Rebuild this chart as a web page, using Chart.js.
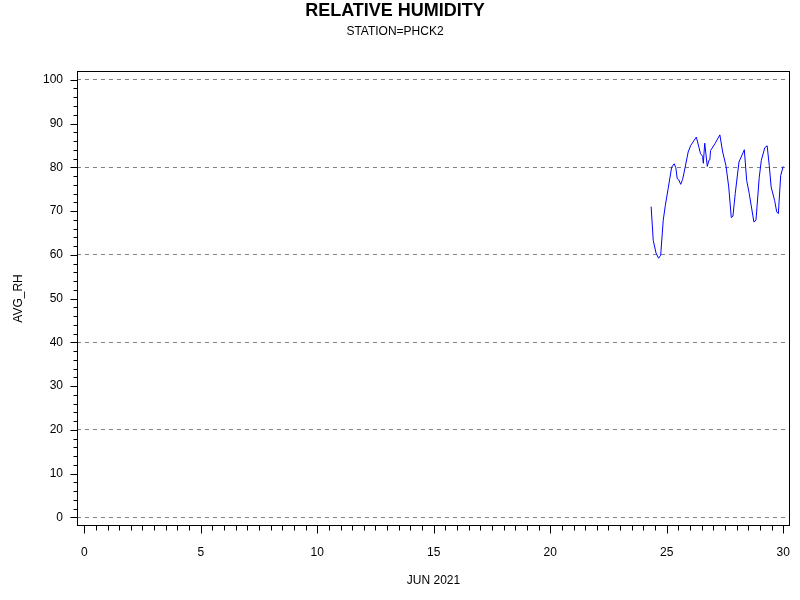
<!DOCTYPE html>
<html>
<head>
<meta charset="utf-8">
<title>Relative Humidity</title>
<script src="https://cdn.jsdelivr.net/npm/chart.js@4/dist/chart.umd.min.js"></script>
<style>
  html, body { margin: 0; padding: 0; background: #fff; }
  canvas { display: block; }
</style>
</head>
<body>
<canvas id="rhChart" width="800" height="600"></canvas>
<script>
// day of June 2021 (fractional) and average relative humidity
const days = [
  24.33, 24.42, 24.54, 24.65, 24.74, 24.85, 24.94, 25.06, 25.21, 25.32,
  25.39, 25.45, 25.51, 25.60, 25.68, 25.79, 25.92, 26.03, 26.27, 26.38,
  26.45, 26.54, 26.57, 26.63, 26.74, 26.81, 26.85, 26.88, 27.07, 27.28,
  27.40, 27.54, 27.66, 27.77, 27.84, 27.94, 28.10, 28.33, 28.43, 28.54,
  28.74, 28.83, 28.97, 29.06, 29.21, 29.31, 29.40, 29.48, 29.63, 29.72,
  29.79, 29.89, 30.00
];
const avgRh = [
  71.0, 63.3, 60.4, 59.2, 59.9, 67.9, 71.3, 75.1, 80.0, 80.8,
  79.9, 77.4, 77.2, 76.1, 77.2, 80.0, 83.5, 85.0, 86.9, 84.6,
  83.1, 82.5, 80.9, 85.5, 80.2, 81.6, 81.7, 83.8, 85.4, 87.4,
  83.5, 80.4, 75.5, 68.5, 68.8, 74.0, 81.2, 84.0, 77.0, 74.0,
  67.5, 67.9, 77.7, 81.6, 84.5, 84.9, 80.4, 75.5, 72.4, 69.8,
  69.4, 78.1, 80.2
];

// axis ticks
const xTicks = [0, 5, 10, 15, 20, 25, 30];
const xMinorStep = 0.5;
const yTicks = [0, 10, 20, 30, 40, 50, 60, 70, 80, 90, 100];
const yMinorStep = 2;
const yGridLines = [0, 20, 40, 60, 80, 100];

const FONT = 'Liberation Sans, Arial, Helvetica, sans-serif';

// frame round the plot area plus major/minor tick marks
const frameAndTicks = {
  id: 'frameAndTicks',
  afterDraw(chart) {
    const { ctx, chartArea: a, scales: { x, y } } = chart;
    ctx.save();
    ctx.strokeStyle = '#000';
    ctx.lineWidth = 1;
    const L = Math.round(a.left) + 0.5, R = Math.round(a.right) - 0.5;
    const T = Math.round(a.top) + 0.5, B = Math.round(a.bottom) - 0.5;
    ctx.strokeRect(L, T, R - L, B - T);

    ctx.beginPath();
    const nx = Math.round((xTicks[xTicks.length - 1] - xTicks[0]) / xMinorStep);
    for (let i = 0; i <= nx; i++) {
      const v = xTicks[0] + i * xMinorStep;
      const px = Math.round(x.getPixelForValue(v)) + 0.5;
      const len = xTicks.includes(v) ? 8 : 5;
      ctx.moveTo(px, B);
      ctx.lineTo(px, B + len);
    }
    const ny = Math.round((yTicks[yTicks.length - 1] - yTicks[0]) / yMinorStep);
    for (let i = 0; i <= ny; i++) {
      const v = yTicks[0] + i * yMinorStep;
      const py = Math.round(y.getPixelForValue(v)) + 0.5;
      const len = yTicks.includes(v) ? 7 : 4;
      ctx.moveTo(L, py);
      ctx.lineTo(L - len, py);
    }
    ctx.stroke();
    ctx.restore();
  }
};

new Chart(document.getElementById('rhChart'), {
  type: 'line',
  data: {
    datasets: [{
      label: 'AVG_RH',
      data: days.map((d, i) => ({ x: d, y: avgRh[i] })),
      borderColor: '#0000ff',
      borderWidth: 1,
      pointRadius: 0,
      tension: 0,
      fill: false
    }]
  },
  options: {
    responsive: false,
    animation: false,
    devicePixelRatio: 1,
    layout: { padding: { left: 0, right: 10, top: 0, bottom: 0 } },
    plugins: {
      legend: { display: false },
      tooltip: { enabled: false },
      title: {
        display: true,
        text: 'RELATIVE HUMIDITY',
        color: '#000',
        font: { family: FONT, size: 18, weight: 'bold' },
        padding: { top: 0, bottom: 0 }
      },
      subtitle: {
        display: true,
        text: 'STATION=PHCK2',
        color: '#000',
        font: { family: FONT, size: 12 },
        padding: { top: 3, bottom: 32 }
      }
    },
    scales: {
      x: {
        type: 'linear',
        min: -0.31,
        max: 30.29,
        afterFit: s => { s.height = 74; s.paddingLeft = 0; s.paddingRight = 0; },
        border: { display: false },
        grid: { display: false, drawTicks: false },
        ticks: {
          stepSize: 5,
          includeBounds: false,
          autoSkip: false,
          maxRotation: 0,
          padding: 19,
          color: '#000',
          font: { family: FONT, size: 12 },
          callback: v => xTicks.includes(v) ? String(v) : ''
        },
        title: {
          display: true,
          text: 'JUN 2021',
          color: '#000',
          font: { family: FONT, size: 12 },
          padding: { top: 0, bottom: 12 }
        }
      },
      y: {
        min: -2,
        max: 102,
        afterFit: s => { s.width = 77; s.paddingTop = 0; s.paddingBottom = 0; },
        border: { display: false, dash: [4, 4] },
        grid: {
          drawTicks: false,
          color: c => yGridLines.includes(c.tick.value) ? '#808080' : 'rgba(0,0,0,0)',
          lineWidth: 1
        },
        ticks: {
          stepSize: 10,
          includeBounds: false,
          autoSkip: false,
          padding: 14,
          color: '#000',
          font: { family: FONT, size: 12 },
          callback: v => yTicks.includes(v) ? String(v) : ''
        },
        title: {
          display: true,
          text: 'AVG_RH',
          color: '#000',
          font: { family: FONT, size: 12 },
          padding: { top: 11, bottom: 0 }
        }
      }
    }
  },
  plugins: [frameAndTicks]
});
</script>
</body>
</html>
